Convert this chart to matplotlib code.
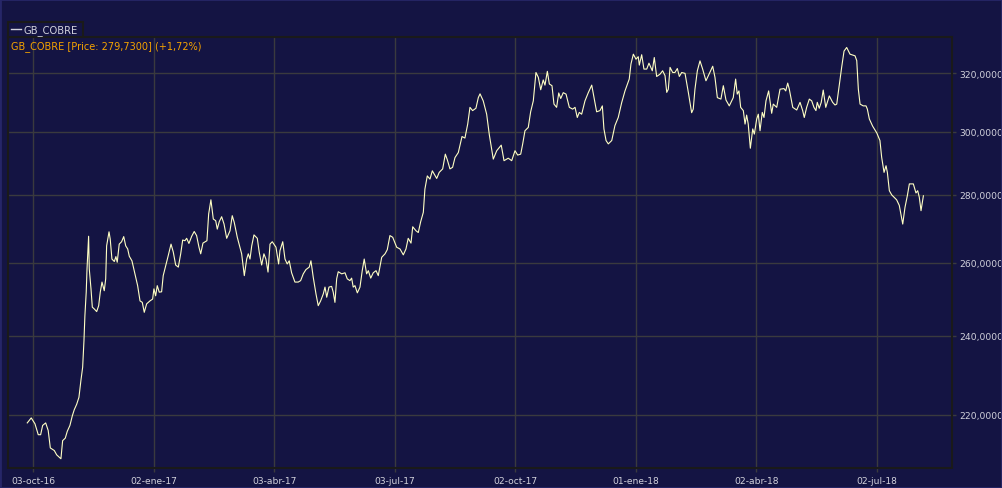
import numpy as np
import pandas as pd
import matplotlib
matplotlib.use("Agg")
import matplotlib.pyplot as plt
import matplotlib.dates as mdates
from matplotlib.ticker import FixedLocator, FuncFormatter, NullLocator
from matplotlib.patches import Rectangle
from matplotlib.lines import Line2D

# =============================
# DATA
# =============================

series_name = "GB_COBRE"
last_price = "279,7300"
last_change = "+1,72%"
start_date = "2016-10-03"

# calendar days after start_date
day_offsets = [
    -4.3, -1.3, 1.5, 4.0, 5.8, 7.3, 9.6, 11.5, 13.1, 16.1,
    17.9, 21.1, 22.4, 24.4, 25.9, 27.9, 29.7, 31.2, 33.0, 34.7,
    36.2, 37.5, 38.5, 39.2, 40.2, 40.8, 42.0, 42.5, 43.8, 44.8,
    46.3, 48.1, 49.6, 50.8, 52.1, 53.8, 54.9, 55.6, 57.4, 58.3,
    59.6, 61.4, 62.6, 63.6, 65.1, 66.9, 68.5, 70.0, 71.5, 72.7,
    74.7, 77.0, 79.0, 80.8, 82.5, 84.0, 85.8, 88.3, 90.3, 91.3,
    92.6, 93.8, 95.3, 97.1, 98.3, 100.2, 102.1, 104.2, 105.9, 107.7,
    109.7, 111.5, 113.0, 114.7, 116.0, 117.7, 119.8, 121.7, 123.5, 125.3,
    126.6, 128.3, 131.3, 132.6, 134.3, 136.1, 137.9, 139.1, 140.6, 142.4,
    144.2, 146.2, 148.7, 150.4, 151.9, 154.2, 157.5, 159.5, 161.3, 162.5,
    163.8, 165.1, 166.8, 169.3, 170.8, 172.6, 174.3, 175.8, 177.4, 178.9,
    180.6, 183.4, 185.4, 186.4, 188.5, 190.2, 191.9, 193.4, 195.2, 197.7,
    200.2, 202.0, 204.0, 206.0, 208.5, 209.8, 211.5, 213.6, 215.3, 217.1,
    219.1, 220.4, 221.7, 223.4, 225.4, 226.6, 227.9, 229.2, 230.4, 233.0,
    235.5, 237.2, 239.2, 240.5, 241.7, 243.0, 244.8, 246.8, 248.5, 250.0,
    251.8, 253.1, 254.9, 256.8, 258.9, 260.6, 263.2, 265.7, 267.4, 269.4,
    271.5, 274.5, 277.0, 279.5, 281.5, 283.2, 285.3, 286.6, 289.1, 290.8,
    292.6, 294.6, 295.8, 297.6, 299.6, 301.4, 304.7, 306.6, 309.2, 311.2,
    312.7, 314.7, 316.7, 318.5, 321.0, 323.8, 326.0, 328.1, 329.8, 331.8,
    334.3, 336.1, 337.4, 339.8, 342.4, 344.4, 347.4, 350.0, 353.4, 355.5,
    358.7, 361.3, 363.8, 365.8, 368.1, 369.6, 371.3, 373.8, 375.6, 377.6,
    379.6, 381.4, 383.2, 385.1, 386.4, 388.2, 389.7, 391.7, 393.2, 395.2,
    396.8, 398.3, 400.2, 402.3, 404.8, 407.3, 409.1, 410.8, 412.3, 414.1,
    416.6, 419.1, 421.7, 423.4, 425.4, 427.9, 429.7, 430.9, 432.5, 434.2,
    436.8, 439.2, 441.7, 444.3, 446.8, 450.0, 451.3, 453.1, 455.1, 456.8,
    457.6, 459.4, 461.1, 463.2, 464.9, 467.4, 468.9, 470.7, 473.2, 475.2,
    477.0, 478.3, 479.5, 480.8, 482.8, 484.5, 486.3, 487.8, 489.6, 492.1,
    494.6, 497.1, 498.3, 499.6, 501.4, 503.4, 505.4, 507.9, 509.7, 513.0,
    514.7, 516.5, 518.0, 519.2, 521.0, 523.0, 525.5, 528.5, 530.3, 531.5,
    532.8, 534.1, 536.1, 537.4, 538.6, 539.8, 541.4, 543.2, 544.4, 546.2,
    547.4, 548.7, 550.4, 551.7, 553.2, 555.2, 557.5, 558.7, 561.3, 563.8,
    566.8, 568.1, 569.6, 570.8, 573.4, 576.4, 578.9, 580.9, 582.1, 583.9,
    585.9, 587.7, 589.4, 590.9, 591.9, 593.4, 594.9, 596.4, 598.3, 599.5,
    601.0, 603.5, 605.3, 606.6, 609.1, 610.3, 612.1, 614.1, 616.6, 620.4,
    621.7, 622.9, 624.2, 626.6, 628.7, 629.7, 631.2, 633.7, 636.8, 639.2,
    640.5, 642.3, 643.8, 644.8, 646.3, 648.1, 651.8, 653.8, 656.4, 658.1,
    659.9, 661.4, 664.4, 666.4, 667.7, 668.9, 670.2, 672.0,
]

prices = [
    218.1, 219.3, 217.9, 215.3, 215.3, 217.5, 218.1, 216.3, 212.2, 211.6,
    210.6, 209.7, 213.9, 214.5, 216.1, 217.5, 219.8, 221.3, 222.6, 224.3,
    228.5, 231.8, 238.7, 245.3, 251.7, 258.2, 267.6, 258.2, 252.6, 247.6,
    247.1, 246.4, 248.0, 251.7, 254.5, 252.1, 255.4, 264.8, 268.9, 266.8,
    261.0, 260.3, 261.7, 260.1, 265.3, 266.0, 267.5, 264.8, 263.9, 261.8,
    260.5, 256.8, 253.5, 249.3, 248.9, 246.2, 248.5, 249.3, 249.8, 252.6,
    250.7, 253.5, 251.7, 251.8, 256.3, 259.1, 262.0, 265.3, 263.0, 259.3,
    258.7, 262.5, 266.5, 266.3, 267.0, 265.5, 267.6, 269.0, 267.8, 264.4,
    262.5, 265.6, 266.3, 274.2, 278.5, 272.7, 272.2, 269.7, 271.9, 273.4,
    271.2, 267.0, 269.2, 273.7, 271.7, 267.3, 262.5, 256.3, 261.0, 262.5,
    261.0, 264.8, 268.0, 267.0, 262.9, 259.3, 262.5, 261.0, 257.3, 265.3,
    266.0, 264.4, 259.6, 263.4, 266.0, 261.0, 259.6, 260.5, 257.1, 254.5,
    254.5, 254.9, 256.8, 258.0, 258.7, 260.5, 255.9, 251.2, 248.0, 249.3,
    251.2, 253.1, 250.3, 253.1, 253.3, 251.7, 248.9, 255.4, 257.4, 256.8,
    257.1, 255.4, 254.9, 255.6, 253.1, 253.5, 251.5, 253.1, 257.7, 261.0,
    256.8, 257.7, 255.6, 257.1, 257.7, 256.3, 261.5, 262.5, 263.7, 267.8,
    267.3, 264.4, 263.9, 262.2, 263.9, 267.0, 265.6, 270.4, 269.2, 268.7,
    271.9, 274.7, 281.8, 285.9, 284.9, 287.5, 285.1, 287.0, 288.1, 292.8,
    291.0, 288.1, 288.6, 291.7, 293.3, 298.5, 298.0, 302.6, 308.2, 307.1,
    307.9, 311.5, 312.8, 310.4, 305.9, 299.1, 291.2, 293.9, 295.7, 290.7,
    291.5, 290.7, 293.9, 292.5, 292.8, 296.1, 300.4, 301.5, 306.7, 310.4,
    320.2, 318.5, 314.2, 317.6, 315.8, 320.6, 316.2, 315.6, 309.3, 308.2,
    313.1, 311.2, 313.2, 312.7, 308.2, 307.6, 308.2, 304.8, 306.5, 305.9,
    310.4, 313.2, 315.8, 311.5, 306.7, 307.1, 308.7, 301.0, 297.2, 296.1,
    297.2, 302.1, 304.8, 309.8, 313.8, 317.9, 323.2, 326.7, 324.9, 325.8,
    322.8, 326.5, 321.4, 321.4, 323.5, 320.8, 325.5, 318.8, 319.6, 320.8,
    319.1, 313.3, 314.4, 322.0, 320.2, 320.2, 321.6, 318.8, 320.2, 319.9,
    313.3, 306.4, 307.6, 314.4, 320.8, 324.3, 321.4, 317.3, 319.1, 322.4,
    318.5, 311.5, 311.2, 311.0, 315.6, 310.7, 308.7, 311.5, 317.9, 312.7,
    313.8, 308.2, 307.1, 302.6, 305.6, 302.6, 294.7, 301.0, 299.3, 304.3,
    305.9, 300.4, 306.5, 304.8, 310.4, 313.8, 306.2, 309.3, 308.2, 314.4,
    314.6, 313.8, 316.5, 314.4, 308.2, 307.3, 309.9, 307.1, 304.8, 308.2,
    311.0, 310.4, 308.2, 307.1, 309.9, 307.9, 309.9, 314.1, 308.2, 309.9,
    312.1, 309.9, 309.0, 309.3, 317.9, 322.0, 327.8, 329.1, 326.7, 326.1,
    324.4, 314.4, 309.3, 308.7, 308.7, 307.6, 304.3, 301.9, 299.7, 297.2,
    291.8, 287.0, 289.1, 287.0, 281.3, 280.0, 278.5, 276.8, 271.2, 276.2,
    279.8, 283.4, 283.4, 280.6, 281.3, 279.3, 275.2, 279.73,
]

tick_dates = ["2016-10-03", "2017-01-02", "2017-04-03", "2017-07-03",
              "2017-10-02", "2018-01-01", "2018-04-02", "2018-07-02"]
tick_labels = ["03-oct-16", "02-ene-17", "03-abr-17", "03-jul-17",
               "02-oct-17", "01-ene-18", "02-abr-18", "02-jul-18"]
y_ticks = [220, 240, 260, 280, 300, 320]

# =============================
# STYLE
# =============================

BG = "#141443"
GRID = "#3a3a3e"
FRAME = "#1a1a1a"
LINE = "#ffffc4"
TEXT = "#d2d2dc"
ORANGE = "#f5a300"

plt.rcParams["font.family"] = ["DejaVu Sans"]

dates = pd.Timestamp(start_date) + pd.to_timedelta(day_offsets, unit="D")

W, H = 1002, 489
fig = plt.figure(figsize=(W / 100, H / 100), dpi=100)
fig.patch.set_facecolor(BG)

# axes box in pixels: left 8, right 952, top 38, bottom 468.5
ax = fig.add_axes([8 / W, (H - 468.5) / H, 944 / W, (468.5 - 38) / H])
ax.set_facecolor(BG)

ax.plot(dates, prices, color=LINE, linewidth=0.8)

ax.set_yscale("log")
ax.set_ylim(207.7, 332.9)
ax.yaxis.set_major_locator(FixedLocator(y_ticks))
ax.yaxis.set_minor_locator(NullLocator())
ax.yaxis.set_major_formatter(FuncFormatter(lambda v, _: f"{v:.4f}".replace(".", ",")))
ax.yaxis.tick_right()

ax.set_xlim(pd.Timestamp("2016-09-14 04:00"), pd.Timestamp("2018-08-27 14:00"))
ax.set_xticks(pd.to_datetime(tick_dates))
ax.set_xticklabels(tick_labels)

ax.grid(True, color=GRID, linewidth=1.0)
ax.set_axisbelow(True)

ax.tick_params(axis="both", colors=GRID, labelcolor=TEXT, labelsize=6.6,
               length=3, width=1)
ax.tick_params(axis="y", pad=2)
ax.tick_params(axis="x", pad=3)

for s in ax.spines.values():
    s.set_color(FRAME)
    s.set_linewidth(1.5)

# legend box at top left
def fx(px):
    return px / W

def fy(py):
    return 1 - py / H

fig.add_artist(Rectangle((fx(8), fy(37.5)), fx(83) - fx(8), fy(23) - fy(37.5),
                         transform=fig.transFigure, facecolor=BG,
                         edgecolor=FRAME, linewidth=1.5))
fig.add_artist(Line2D([fx(11), fx(21)], [fy(30), fy(30)],
                      transform=fig.transFigure, color=TEXT, linewidth=1))
fig.text(fx(24), fy(30.5), series_name, color=TEXT, fontsize=7.2,
         va="center", ha="left")

fig.text(fx(11), fy(47), f"{series_name} [Price: {last_price}] ({last_change})",
         color=ORANGE, fontsize=7.0, va="center", ha="left")

# thin lighter outer border
fig.add_artist(Rectangle((0, 0), 1, 1, transform=fig.transFigure, fill=False,
                         edgecolor="#262668", linewidth=2))

fig.savefig("out.png", dpi=100, facecolor=BG)
